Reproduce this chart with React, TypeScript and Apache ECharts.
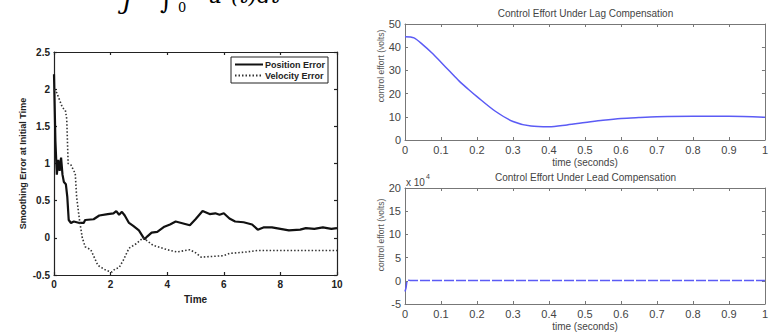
import React, { useEffect, useRef } from "react";
import * as echarts from "echarts";

// Left plot: smoothing error vs time  [time, value]
const positionError: number[][] = [
  [0, 2.2], [0.05, 1.3], [0.1, 0.85], [0.15, 1.05], [0.2, 0.9], [0.25, 1.08], [0.3, 0.85],
  [0.35, 0.75], [0.42, 0.72], [0.47, 0.55], [0.52, 0.24], [0.6, 0.2], [0.7, 0.22], [0.9, 0.2],
  [1.05, 0.2], [1.1, 0.24], [1.4, 0.25], [1.6, 0.3], [1.9, 0.32], [2.1, 0.33], [2.2, 0.36],
  [2.3, 0.31], [2.4, 0.35], [2.5, 0.3], [2.65, 0.2], [2.8, 0.16], [3.0, 0.1], [3.2, -0.02],
  [3.3, 0.02], [3.45, 0.07], [3.65, 0.08], [3.9, 0.15], [4.1, 0.18], [4.3, 0.22], [4.5, 0.2],
  [4.8, 0.17], [5.0, 0.25], [5.25, 0.36], [5.5, 0.32], [5.7, 0.33], [5.85, 0.31], [6.0, 0.33],
  [6.2, 0.26], [6.4, 0.22], [6.7, 0.21], [7.0, 0.18], [7.2, 0.11], [7.4, 0.14], [7.7, 0.14],
  [8.0, 0.12], [8.3, 0.1], [8.7, 0.11], [8.9, 0.13], [9.2, 0.12], [9.5, 0.14], [9.8, 0.12], [10, 0.13],
];
const velocityError: number[][] = [
  [0, 2.0], [0.1, 1.95], [0.2, 1.85], [0.3, 1.75], [0.4, 1.72], [0.45, 1.6], [0.5, 1.0],
  [0.6, 0.98], [0.7, 0.9], [0.75, 0.87], [0.8, 0.55], [0.9, 0.24], [1.0, 0.0], [1.1, -0.12],
  [1.3, -0.16], [1.55, -0.37], [1.85, -0.44], [2.05, -0.46], [2.15, -0.42], [2.3, -0.4],
  [2.45, -0.3], [2.65, -0.14], [2.9, -0.08], [3.15, 0.0], [3.5, -0.1], [4.0, -0.16],
  [4.35, -0.19], [4.8, -0.16], [5.0, -0.2], [5.2, -0.26], [5.6, -0.25], [6.0, -0.24],
  [6.2, -0.21], [6.8, -0.19], [7.2, -0.17], [10, -0.17],
];
// Right top: control effort under lag compensation (volts)
const lagEffort: number[][] = [
  [0, 44.5], [0.025, 44], [0.05, 41], [0.075, 37.5], [0.1, 33.5], [0.125, 29.5], [0.15, 25.5],
  [0.175, 22], [0.2, 18.7], [0.25, 12.5], [0.3, 8], [0.35, 6], [0.4, 5.7], [0.45, 6.5],
  [0.5, 7.5], [0.55, 8.5], [0.6, 9.3], [0.65, 9.7], [0.7, 10], [0.8, 10.2], [0.9, 10.2], [1.0, 9.8],
];
// Right bottom: control effort under lead compensation (x 10^4 volts)
const leadEffort: number[][] = [
  [0, -2.3], [0.003, -1.5], [0.005, -0.3], [0.008, 0.15], [0.015, 0.05], [1, 0.05],
];

const leftYTicks = { min: -0.5, max: 2.5, interval: 0.5 };
const leftXTicks = { min: 0, max: 10, interval: 2 };
const rightXTicks = { min: 0, max: 1, interval: 0.1 };
const lagYTicks = { min: 0, max: 50, interval: 10 };
const leadYTicks = { min: -5, max: 20, interval: 5 };

const FONT = "Liberation Sans, Arial, sans-serif";

export default function App() {
  const ref = useRef<HTMLDivElement>(null);
  useEffect(() => {
    if (!ref.current) return;
    const chart = echarts.init(ref.current, undefined, { renderer: "svg" });

    const leftLine = { lineStyle: { color: "#222", width: 1.2 } };
    const leftLabel = { color: "#222", fontSize: 10, fontWeight: "bold" as const, fontFamily: FONT };
    const rightLine = { lineStyle: { color: "#777", width: 1 } };
    const rightLabel = { color: "#444", fontSize: 11, fontFamily: FONT };

    const mkX = (gi: number, t: any, pos: string, line: any, label: any, show: boolean, extra: any = {}) => ({
      type: "value", gridIndex: gi, position: pos, ...t,
      axisLine: { show: true, onZero: false, ...line },
      axisTick: { show: true, inside: true, length: 3, ...line },
      axisLabel: { show, margin: 4, ...label },
      splitLine: { show: false },
      ...extra,
    });

    const option: any = {
      animation: false,
      backgroundColor: "#fff",
      grid: [
        { left: 54, top: 52, width: 283, height: 223 },
        { left: 405, top: 24, width: 361, height: 116 },
        { left: 405, top: 188, width: 361, height: 116 },
      ],
      xAxis: [
        mkX(0, leftXTicks, "bottom", leftLine, leftLabel, true, {
          name: "Time", nameLocation: "middle", nameGap: 19,
          nameTextStyle: { color: "#222", fontSize: 10, fontWeight: "bold", fontFamily: FONT },
        }),
        mkX(0, leftXTicks, "top", leftLine, leftLabel, false),
        mkX(1, rightXTicks, "bottom", rightLine, rightLabel, true, {
          name: "time (seconds)", nameLocation: "middle", nameGap: 17,
          nameTextStyle: { color: "#444", fontSize: 10, fontFamily: FONT },
        }),
        mkX(1, rightXTicks, "top", rightLine, rightLabel, false),
        mkX(2, rightXTicks, "bottom", rightLine, rightLabel, true, {
          name: "time (seconds)", nameLocation: "middle", nameGap: 17,
          nameTextStyle: { color: "#444", fontSize: 10, fontFamily: FONT },
        }),
        mkX(2, rightXTicks, "top", rightLine, rightLabel, false),
      ],
      yAxis: [
        mkX(0, leftYTicks, "left", leftLine, leftLabel, true, {
          name: "Smoothing Error at Initial Time", nameLocation: "middle", nameGap: 27,
          nameTextStyle: { color: "#222", fontSize: 9, fontWeight: "bold", fontFamily: FONT },
        }),
        mkX(0, leftYTicks, "right", leftLine, leftLabel, false),
        mkX(1, lagYTicks, "left", rightLine, rightLabel, true),
        mkX(1, lagYTicks, "right", rightLine, rightLabel, false),
        mkX(2, leadYTicks, "left", rightLine, rightLabel, true),
        mkX(2, leadYTicks, "right", rightLine, rightLabel, false),
      ],
      legend: {
        left: 231, top: 57, orient: "vertical",
        backgroundColor: "#fff", borderColor: "#222", borderWidth: 1,
        padding: [3, 3, 3, 3], itemGap: 2, itemWidth: 28, itemHeight: 8,
        itemStyle: { opacity: 0 },
        textStyle: { color: "#222", fontSize: 9, fontWeight: "bold", fontFamily: FONT, padding: [0, 0, 0, -3] },
        data: ["Position Error", "Velocity Error"],
      },
      graphic: [
        { type: "text", x: 585.5, y: 13, style: { text: "Control Effort Under Lag Compensation", fill: "#444", font: `10px ${FONT}`, align: "center", verticalAlign: "middle" } },
        { type: "text", x: 585.5, y: 177, style: { text: "Control Effort Under Lead Compensation", fill: "#444", font: `10px ${FONT}`, align: "center", verticalAlign: "middle" } },
        { type: "text", x: 406, y: 182, style: { text: "x 10", fill: "#444", font: `10px ${FONT}`, verticalAlign: "middle" } },
        { type: "text", x: 426, y: 176, style: { text: "4", fill: "#444", font: `7px ${FONT}`, verticalAlign: "middle" } },
        { type: "text", x: 381, y: 66, rotation: Math.PI / 2, style: { text: "control effort (volts)", fill: "#555", font: `8.5px ${FONT}`, align: "center", verticalAlign: "middle" } },
        { type: "text", x: 381, y: 235, rotation: Math.PI / 2, style: { text: "control effort (volts)", fill: "#555", font: `8.5px ${FONT}`, align: "center", verticalAlign: "middle" } },
        // clipped formula at the top
        { type: "text", x: 122, y: 13, style: { text: "J", fill: "#000", font: `italic 24px DejaVu Serif, serif`, verticalAlign: "bottom" } },
        { type: "text", x: 160, y: 13, style: { text: "∫", fill: "#000", font: `24px DejaVu Serif, serif`, verticalAlign: "bottom" } },
        { type: "text", x: 178, y: 14, style: { text: "0", fill: "#000", font: `13px DejaVu Serif, serif`, verticalAlign: "bottom" } },
        { type: "text", x: 208, y: 6, style: { text: "u²(t)dt", fill: "#000", font: `italic 22px DejaVu Serif, serif`, verticalAlign: "bottom" } },
      ],
      series: [
        { name: "Position Error", type: "line", xAxisIndex: 0, yAxisIndex: 0, data: positionError, symbol: "none", lineStyle: { color: "#111", width: 2.2 }, itemStyle: { color: "#111" } },
        { name: "Velocity Error", type: "line", xAxisIndex: 0, yAxisIndex: 0, data: velocityError, symbol: "none", lineStyle: { color: "#333", width: 1.6, type: [1.5, 2] }, itemStyle: { color: "#333" } },
        { name: "lag", type: "line", xAxisIndex: 2, yAxisIndex: 2, data: lagEffort, symbol: "none", smooth: 0.3, lineStyle: { color: "#5b5bf5", width: 1.5 } },
        { name: "lead", type: "line", xAxisIndex: 4, yAxisIndex: 4, data: leadEffort, symbol: "none", lineStyle: { color: "#5b5bf5", width: 1.5, type: [10, 2] } },
      ],
    };
    chart.setOption(option);
    return () => chart.dispose();
  }, []);
  return <div ref={ref} style={{ position: "fixed", left: 0, top: 0, width: 771, height: 333, background: "#fff" }} />;
}
